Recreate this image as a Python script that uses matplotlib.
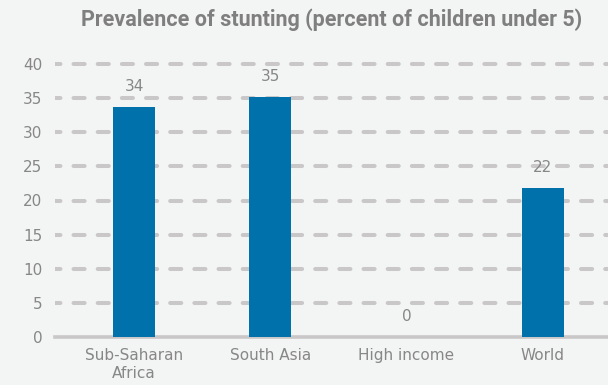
import matplotlib
matplotlib.use("Agg")
import matplotlib.pyplot as plt
import numpy as np

categories = ["Sub-Saharan\nAfrica", "South Asia", "High income", "World"]
values = [33.7, 35.1, 0.0, 21.8]
yticks = [0, 5, 10, 15, 20, 25, 30, 35, 40]
title = "Prevalence of stunting (percent of children under 5)"

bg = "#F3F4F4"
bar_color = "#0071AA"
grid_color = "#C9C7C7"
text_color = "#878787"

W, H = 608, 385
fig = plt.figure(figsize=(W / 100, H / 100), dpi=100, facecolor=bg)

# axes placed in pixel terms: zero line at y=337, 6.825 px per unit
px_per_unit = 6.825
ymax = 41.0
left_px, right_px = 55, 608
bottom_px = 337
top_px = bottom_px - ymax * px_per_unit
ax = fig.add_axes([left_px / W, (H - bottom_px) / H,
                   (right_px - left_px) / W, (bottom_px - top_px) / H])
ax.set_facecolor(bg)

x = np.arange(len(categories))
ax.bar(x, values, width=0.31, color=bar_color, zorder=3)

ax.set_xlim(-0.58, 3.48)
ax.set_ylim(0, ymax)

# dashed horizontal guides (round caps: ~15 px dash, ~9 px gap)
for yv in yticks[1:]:
    ax.axhline(yv, color=grid_color, lw=2.9, ls=(1.4, (2.75, 3.25)),
               dash_capstyle="round", zorder=1)
ax.axhline(0, color=grid_color, lw=2.6, zorder=2, clip_on=False)

for xi, v in zip(x, values):
    ax.text(xi, v + 1.9, f"{v:.0f}", ha="center", va="bottom",
            fontsize=11, color=text_color)

ax.set_yticks(yticks)
ax.set_xticks(x)
ax.set_xticklabels(categories)
ax.tick_params(axis="both", length=0, labelsize=11, labelcolor=text_color)
ax.tick_params(axis="y", pad=9)
ax.tick_params(axis="x", pad=8)
for s in ax.spines.values():
    s.set_visible(False)

fig.text(332 / W, 1 - 20 / H, title, ha="center", va="center",
         fontsize=15.5, fontweight="bold", color="#7F7F7F",
         family=["Roboto", "DejaVu Sans"])

fig.savefig("out.png", dpi=100, facecolor=bg)
